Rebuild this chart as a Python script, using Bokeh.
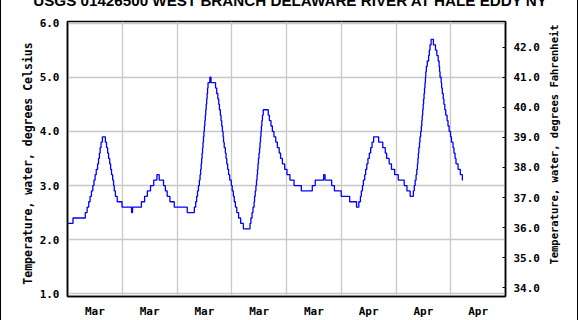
import math
from bokeh.plotting import figure
from bokeh.models import (Range1d, LinearAxis, FixedTicker, PrintfTickFormatter, Label)
from bokeh.embed import file_html
from bokeh.resources import INLINE

# ---- data (hours since start of first day, water temperature in deg C, step changes) ----
hours = [0.0, 2.4, 7.8, 8.6, 9.3, 9.9, 10.5, 11.1, 11.6, 12.1, 12.6, 13.2, 13.6, 14.0, 14.3, 14.7, 15.3,
         16.6, 17.1, 17.6, 18.0, 18.5, 18.9, 19.3, 19.8, 20.2, 20.5, 21.0, 21.8, 23.9, 28.1, 28.5,
         32.4, 33.8, 35.0, 36.4, 37.8, 39.2, 40.2, 42.1, 42.9, 43.7, 44.9, 46.8, 52.5, 55.6,
         56.2, 56.6, 57.0, 57.4, 57.8, 58.1, 58.35, 58.6, 58.8, 59.0, 59.2, 59.4, 59.6, 59.8, 60.0,
         60.2, 60.4, 60.6, 60.8, 61.0, 61.2, 61.4, 61.6, 62.4, 62.9, 64.9, 65.4, 65.9, 66.3, 66.6,
         67.0, 67.3, 67.6, 67.9, 68.2, 68.4, 68.7, 69.2, 69.5, 69.8, 70.2, 70.6, 71.1, 71.8, 72.2,
         72.7, 73.1, 73.6, 74.2, 75.0, 75.9, 77.1, 80.0, 80.4, 80.9, 81.3, 81.8, 82.0, 82.3, 82.6,
         82.85, 83.1, 83.3, 83.5, 83.7, 83.95, 84.2, 84.4, 84.6, 84.8, 85.0, 85.2, 85.45, 85.8,
         88.0, 88.5, 89.2, 89.8, 90.5, 91.3, 92.0, 92.8, 93.4, 94.2, 95.2, 96.2, 97.5, 99.3, 102.5,
         107.3, 108.6, 112.3, 112.9, 115.8, 117.0, 120.0, 123.7, 126.7, 127.7, 128.4, 128.8, 129.3,
         129.7, 130.3, 130.7, 131.2, 131.7, 132.3, 132.9, 133.5, 134.2, 136.4, 138.2, 139.3, 139.9,
         141.0, 142.0, 143.4, 145.0, 147.6, 148.8, 150.2, 151.6, 152.0, 152.4, 152.8, 153.1, 153.4,
         153.6, 153.8, 154.0, 154.3, 154.5, 154.8, 155.1, 155.3, 155.5, 155.7, 155.9, 156.1, 156.3,
         156.5, 156.7, 156.9, 157.05, 157.3, 157.7, 158.3, 158.6, 158.9, 159.4, 160.4, 161.3, 161.9,
         162.5, 162.9, 163.1, 163.3, 163.8, 164.0, 164.3, 164.7, 165.0, 165.4, 165.8, 166.4, 166.8,
         167.3, 167.9, 168.3, 169.0, 169.4, 169.9, 170.3, 171.2, 172.2, 173.1, 173.3]
temps_c = [2.3, 2.4, 2.5, 2.6, 2.7, 2.8, 2.9, 3.0, 3.1, 3.2, 3.3, 3.4, 3.5, 3.6, 3.7, 3.8, 3.9,
           3.8, 3.7, 3.6, 3.5, 3.4, 3.3, 3.2, 3.1, 3.0, 2.9, 2.8, 2.7, 2.6, 2.5, 2.6,
           2.7, 2.8, 2.9, 3.0, 3.1, 3.2, 3.1, 3.0, 2.9, 2.8, 2.7, 2.6, 2.5, 2.6,
           2.7, 2.8, 2.9, 3.0, 3.1, 3.2, 3.3, 3.4, 3.5, 3.6, 3.7, 3.8, 3.9, 4.0, 4.1,
           4.2, 4.3, 4.4, 4.5, 4.6, 4.7, 4.8, 4.9, 5.0, 4.9, 4.8, 4.7, 4.6, 4.5, 4.4,
           4.3, 4.2, 4.1, 4.0, 3.9, 3.8, 3.7, 3.6, 3.5, 3.4, 3.3, 3.2, 3.1, 3.0, 2.9,
           2.8, 2.7, 2.6, 2.5, 2.4, 2.3, 2.2, 2.3, 2.4, 2.5, 2.6, 2.7, 2.8, 2.9, 3.0,
           3.1, 3.2, 3.3, 3.4, 3.5, 3.6, 3.7, 3.8, 3.9, 4.0, 4.1, 4.2, 4.3, 4.4,
           4.3, 4.2, 4.1, 4.0, 3.9, 3.8, 3.7, 3.6, 3.5, 3.4, 3.3, 3.2, 3.1, 3.0, 2.9,
           3.0, 3.1, 3.2, 3.1, 3.0, 2.9, 2.8, 2.7, 2.6, 2.7, 2.8, 2.9, 3.0,
           3.1, 3.2, 3.3, 3.4, 3.5, 3.6, 3.7, 3.8, 3.9, 3.8, 3.7, 3.6, 3.5,
           3.4, 3.3, 3.2, 3.1, 3.0, 2.9, 2.8, 2.9, 3.0, 3.1, 3.2, 3.3, 3.4,
           3.5, 3.6, 3.7, 3.8, 3.9, 4.0, 4.1, 4.2, 4.3, 4.4, 4.5, 4.6, 4.7,
           4.8, 4.9, 5.0, 5.1, 5.2, 5.3, 5.4, 5.5, 5.6, 5.7, 5.6, 5.5, 5.4,
           5.3, 5.2, 5.1, 5.0, 4.9, 4.8, 4.7, 4.6, 4.5, 4.4, 4.3, 4.2, 4.1,
           4.0, 3.9, 3.8, 3.7, 3.6, 3.5, 3.4, 3.3, 3.2, 3.1, 3.1]

day_label_hours = [12, 36, 60, 84, 108, 132, 156, 180]
day_labels = ["Mar", "Mar", "Mar", "Mar", "Mar", "Apr", "Apr", "Apr"]
day_boundaries = [24, 48, 72, 96, 120, 144, 168]
celsius_ticks = [1, 2, 3, 4, 5, 6]
fahrenheit_ticks = [34, 35, 36, 37, 38, 39, 40, 41, 42]
title_text = "USGS 01426500 WEST BRANCH DELAWARE RIVER AT HALE EDDY NY"
left_title = "Temperature, water, degrees Celsius"
right_title = "Temperature, water, degrees Fahrenheit"

y_lo, y_hi = 0.95, 6.03
mono = "DejaVu Sans Mono"

p = figure(width=578, height=320, output_backend="svg", toolbar_location=None,
           x_range=Range1d(0, 192), y_range=Range1d(y_lo, y_hi),
           min_border_left=66, min_border_right=74, min_border_top=21, min_border_bottom=22,
           background_fill_color="white", border_fill_color="white",
           styles={"border-left": "1px solid black", "border-right": "1px solid black"})
p.outline_line_color = "black"
p.outline_line_width = 1.5

p.extra_y_ranges = {"f": Range1d(y_lo * 1.8 + 32, y_hi * 1.8 + 32)}

# grids
p.xgrid.ticker = FixedTicker(ticks=day_boundaries)
p.ygrid.ticker = FixedTicker(ticks=celsius_ticks)
for g in (p.xgrid, p.ygrid):
    g.grid_line_color = "#c8c8c8"
    g.grid_line_width = 1.3

# x axis
xa = p.xaxis[0]
xa.ticker = FixedTicker(ticks=day_label_hours)
xa.major_label_overrides = {h: lab for h, lab in zip(day_label_hours, day_labels)}
xa.major_tick_out = 0
xa.major_tick_in = 0
xa.minor_tick_out = 0
xa.minor_tick_in = 0
xa.axis_line_color = "black"
xa.axis_line_width = 1.5
xa.major_label_text_font = mono
xa.major_label_text_font_style = "bold"
xa.major_label_text_font_size = "11px"
xa.major_label_text_color = "black"
xa.major_label_standoff = 8

# left axis
ya = p.yaxis[0]
ya.ticker = FixedTicker(ticks=celsius_ticks)
ya.formatter = PrintfTickFormatter(format="%.1f")
ya.major_tick_out = 0
ya.major_tick_in = 0
ya.minor_tick_out = 0
ya.minor_tick_in = 0
ya.axis_line_color = "black"
ya.axis_line_width = 1.5

# right axis
ra = LinearAxis(y_range_name="f", ticker=FixedTicker(ticks=fahrenheit_ticks),
                formatter=PrintfTickFormatter(format="%.1f"))
ra.major_tick_out = 0
ra.major_tick_in = 3
ra.minor_tick_out = 0
ra.minor_tick_in = 0
ra.axis_line_color = "black"
ra.axis_line_width = 1.5
p.add_layout(ra, "right")

for ax in (ya, ra):
    ax.major_label_text_font = mono
    ax.major_label_text_font_style = "bold"
    ax.major_label_text_font_size = "11px"
    ax.major_label_text_color = "black"
    ax.major_label_standoff = 8

p.step(hours, temps_c, mode="after", line_color="#0000ff", line_width=1.3)

llab = Label(x=5, y=133, x_units="screen", y_units="screen", text=left_title, angle=math.pi / 2,
             text_align="center", text_baseline="middle", text_font=mono,
             text_font_style="bold", text_font_size="11.5px", text_color="black")
p.add_layout(llab, "left")

rlab = Label(x=11, y=152, x_units="screen", y_units="screen", text=right_title, angle=math.pi / 2,
             text_align="center", text_baseline="middle", text_font=mono,
             text_font_style="bold", text_font_size="10.5px", text_color="black")
p.add_layout(rlab, "right")

title = Label(x=223, y=21, x_units="screen", y_units="screen", text=title_text,
              text_align="center", text_baseline="alphabetic", text_font="Liberation Sans",
              text_font_style="bold", text_font_size="15.2px", text_color="black")
p.add_layout(title, "above")

open("out.html", "w").write(file_html(p, INLINE))
